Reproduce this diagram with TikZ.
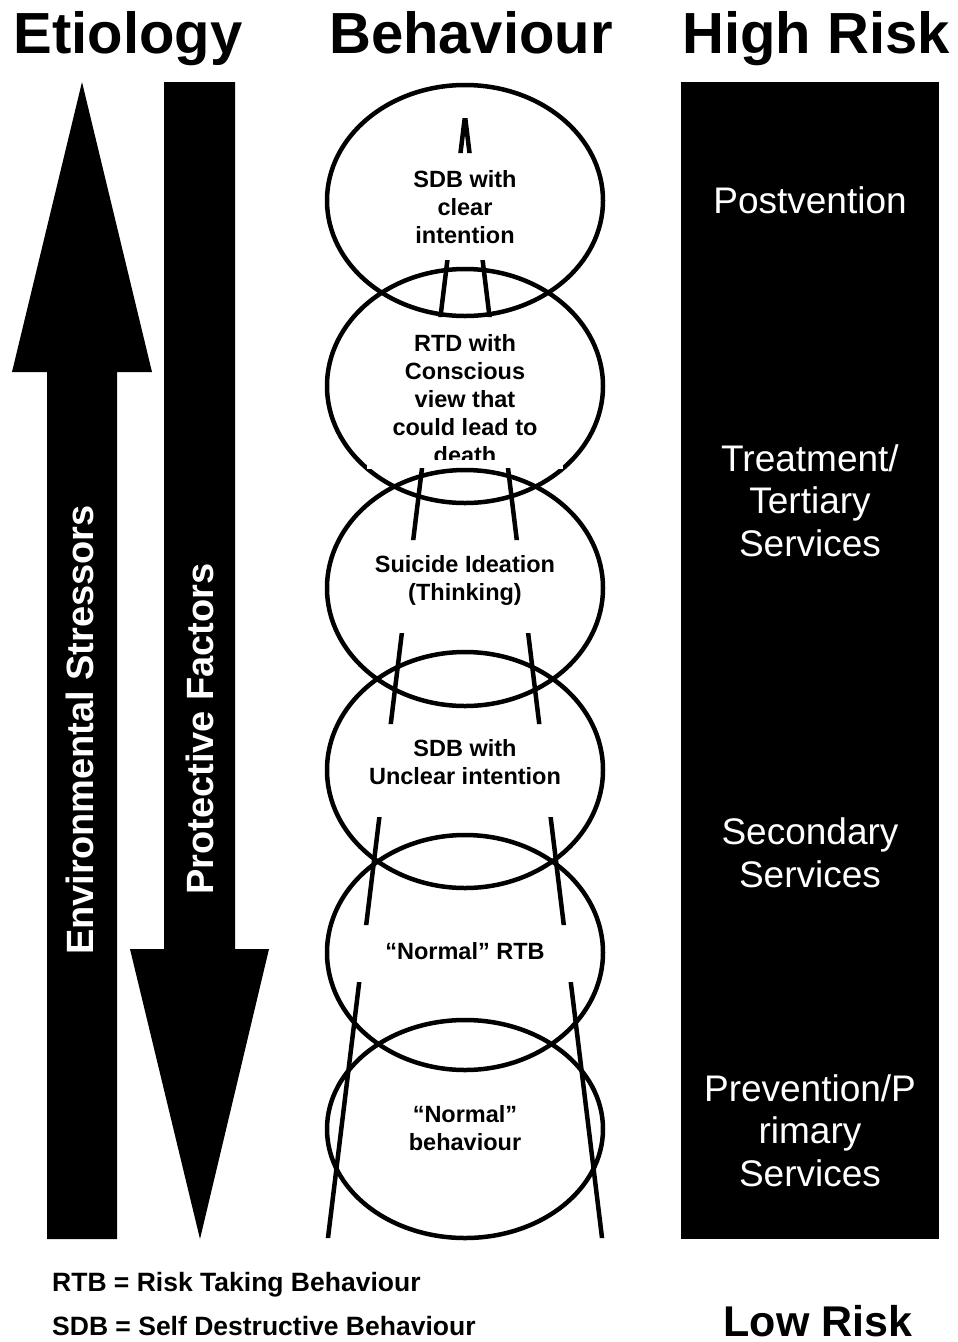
\documentclass[tikz,border=0pt]{standalone}
\usepackage{fontspec}
\setmainfont{Liberation Sans}
\usetikzlibrary{shapes.geometric}
\begin{document}
\begin{tikzpicture}[x=1pt,y=-1pt,
  bub/.style={ellipse, draw=black, line width=4.5pt, inner sep=0pt, minimum width=276pt},
  etext/.style={font=\bfseries\fontsize{23.5}{28}\selectfont, align=center, inner sep=0pt},
  rtext/.style={font=\fontsize{37}{42.5}\selectfont, text=white, align=center, inner sep=0pt},
  title/.style={font=\bfseries\fontsize{58}{60}\selectfont, anchor=base, inner sep=0pt},
  vtext/.style={font=\bfseries\fontsize{38}{40}\selectfont, text=white, rotate=90, anchor=base, inner sep=0pt},
  legend/.style={font=\bfseries\fontsize{26.5}{30}\selectfont, anchor=base west, inner sep=0pt},
  slant/.style={line width=4.5pt}]
\useasboundingbox (0,0) rectangle (958,1342);
\fill[white] (0,0) rectangle (958,1342);

% titles
\node[title] (tEt) at (128,53) {Etiology};
\node[title] (tBe) at (471,53) {Behaviour};
\node[title] (tHi) at (816,53) {High Risk};

% up arrow (environmental stressors)
\fill[black] (82,82) -- (152,372) -- (117,372) -- (117,1239) -- (47,1239) -- (47,372) -- (12,372) -- cycle;
% down arrow (protective factors)
\fill[black] (164,82) -- (235,82) -- (235,949) -- (269,949) -- (200,1239) -- (130,949) -- (164,949) -- cycle;
\node[vtext] (env) at (93,730) {Environmental Stressors};
\node[vtext] (prot) at (213,729) {Protective Factors};

% right column
\fill[black] (681,82) rectangle (939,1239);
\node[rtext] (post) at (810,200) {Postvention};
\node[rtext] (treat) at (810,500.5) {Treatment/\\Tertiary\\Services};
\node[rtext] (sec) at (810,853) {Secondary\\Services};
\node[rtext] (prev) at (810,1130.5) {Prevention/P\\rimary\\Services};

% ellipses
\node[bub, minimum height=231pt] (e1) at (465,200.5) {};
\node[bub, minimum height=234pt] (e2) at (465,386) {};
\fill[white] (367,320) rectangle (563,469);
\node[bub, minimum height=236pt] (e3) at (465,588) {};
\node[bub, minimum height=236pt] (e4) at (465,770) {};
\node[bub, minimum height=235pt] (e5) at (465,952.5) {};
\node[bub, minimum height=218pt] (e6) at (465,1129) {};

% slanted lines, visible between text boxes
\coordinate (apex) at (465,116);
\coordinate (bl) at (326.5,1250);
\coordinate (br) at (603.5,1250);
\begin{scope}
  \clip (0,118) rectangle (958,153)
        (0,260) rectangle (958,317)
        (0,468) rectangle (958,540)
        (0,633) rectangle (958,724)
        (0,817) rectangle (958,925)
        (0,982) rectangle (958,1238);
  \draw[slant] (apex) -- (bl);
  \draw[slant] (apex) -- (br);
\end{scope}

% ellipse texts
\node[etext] (s1) at (465,207) {SDB with\\clear\\intention};
\begin{scope}
  \clip (367,320) rectangle (563,459);
  \node[etext] (s2) at (465,399) {RTD with\\Conscious\\view that\\could lead to\\death};
\end{scope}
\node[etext] (s3) at (465,580) {Suicide Ideation\\(Thinking)};
\node[etext] (s4) at (465,762) {SDB with\\Unclear intention};
\node[etext] (s5) at (465,951) {“Normal” RTB};
\node[etext] (s6) at (465,1128) {“Normal”\\behaviour};

% legend
\node[legend] (l1) at (52,1291) {RTB = Risk Taking Behaviour};
\node[legend] (l2) at (52,1335) {SDB = Self Destructive Behaviour};
\node[font=\bfseries\fontsize{43}{45}\selectfont, anchor=base, inner sep=0pt] (low) at (818,1336) {Low Risk};
\end{tikzpicture}
\end{document}
